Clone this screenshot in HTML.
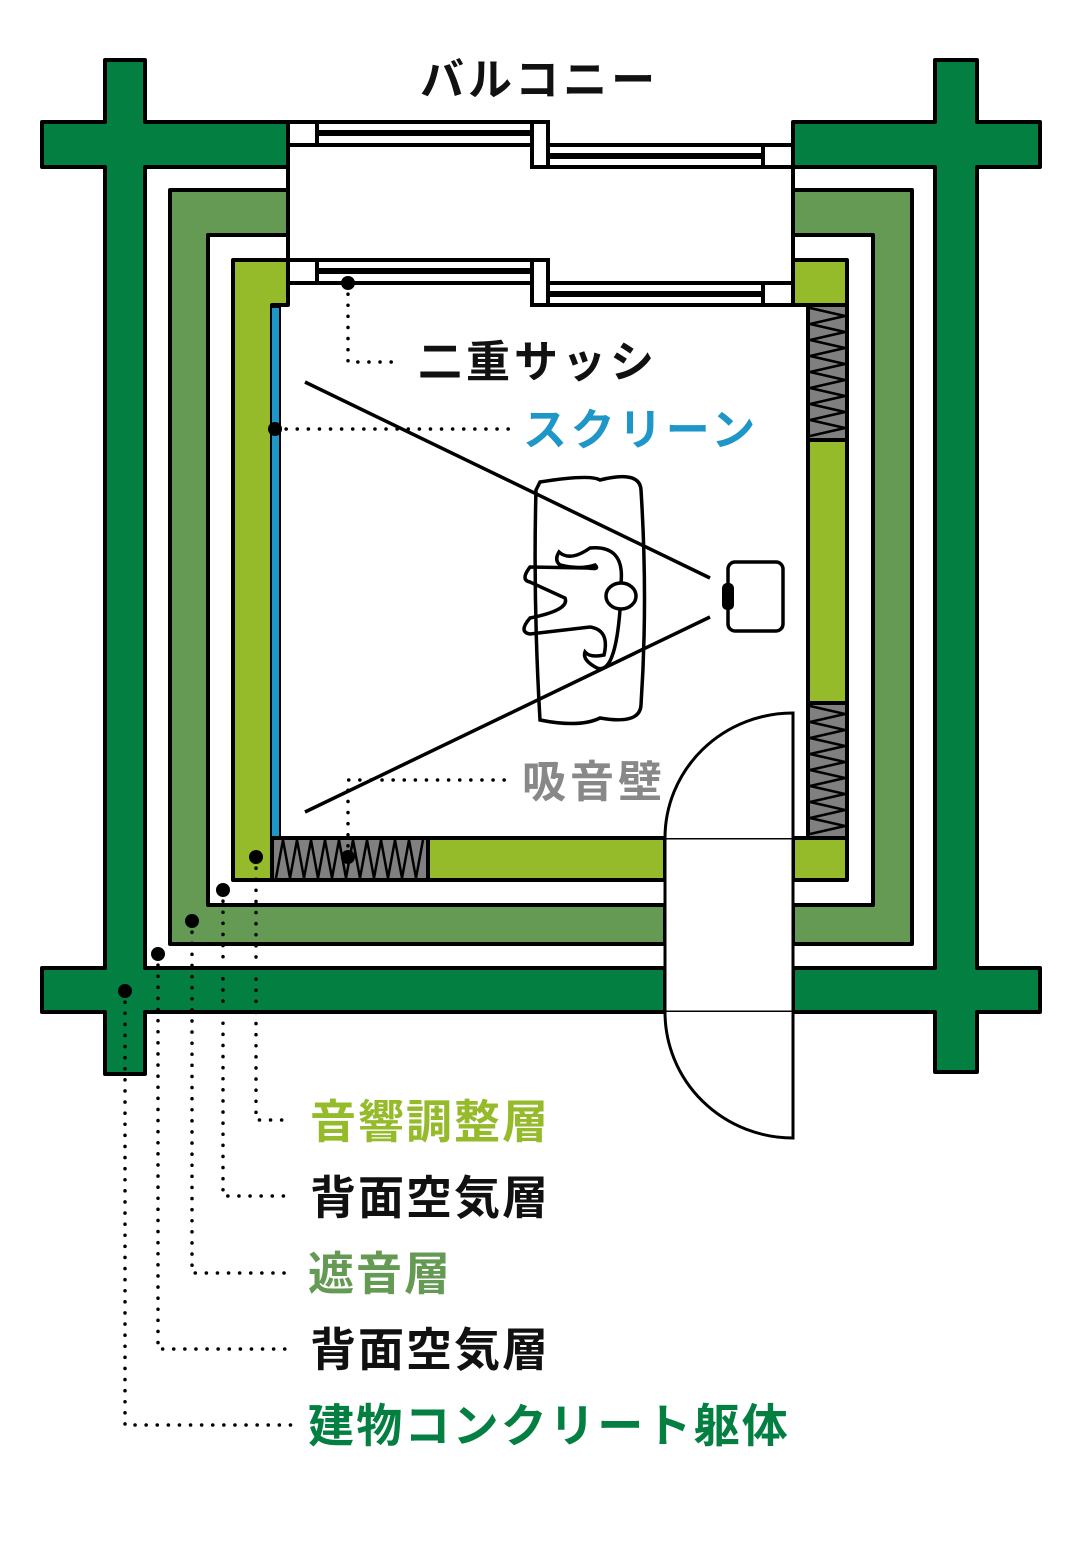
<!DOCTYPE html>
<html><head><meta charset="utf-8"><style>
html,body{margin:0;padding:0;background:#fff}
svg{display:block}
text{font-family:"Liberation Sans","Noto Sans CJK JP",sans-serif;font-weight:bold}
</style></head><body>
<svg width="1080" height="1560" viewBox="0 0 1080 1560" xmlns="http://www.w3.org/2000/svg">
<g stroke="#000" stroke-width="4" stroke-linejoin="round">
<path fill="#037f41" d="M105,60 H145 V122 H288 V167 H145 V968 H665 V1012 H145 V1074 H105 V1012 H42 V968 H105 V167 H42 V122 H105 Z"/>
<path fill="#037f41" d="M935,60 H977 V122 H1040 V167 H977 V968 H1040 V1012 H977 V1072 H935 V1012 H793 V968 H935 V167 H793 V122 H935 Z"/>
<path fill="#659a55" d="M170,190 H288 V235 H208 V905 H665 V944 H170 Z"/>
<path fill="#659a55" d="M793,190 H912 V944 H793 V905 H873 V235 H793 Z"/>
<path fill="#95bb2a" d="M233,260 H288 V305 H272 V838 H665 V880 H233 Z"/>
<path fill="#95bb2a" d="M793,260 H847 V880 H793 V838 H808 V305 H793 Z"/>
<rect x="808" y="305" width="39" height="135" fill="#808080"/>
<rect x="808" y="703" width="39" height="135" fill="#808080"/>
<rect x="272" y="838" width="156" height="42" fill="#808080"/>
</g>
<g fill="none" stroke="#000" stroke-width="2.5">
<path d="M810,308 L845,316 L810,324 L845,332 L810,340 L845,348 L810,356 L845,364 L810,372 L845,380 L810,388 L845,396 L810,404 L845,412 L810,420 L845,428 L810,436"/>
<path d="M810,706 L845,714 L810,722 L845,730 L810,738 L845,746 L810,754 L845,762 L810,770 L845,778 L810,786 L845,794 L810,802 L845,810 L810,818 L845,826 L810,834"/>
<path d="M276,878 L283,840 L290,878 L297,840 L304,878 L311,840 L318,878 L325,840 L332,878 L339,840 L346,878 L353,840 L360,878 L367,840 L374,878 L381,840 L388,878 L395,840 L402,878 L409,840 L416,878 L423,840"/>
</g>
<rect x="271" y="307" width="9" height="530" fill="#1e96c8" stroke="#000" stroke-width="2"/>
<g fill="#fff" stroke="#000" stroke-width="4">
<rect x="288" y="122" width="260" height="23"/>
<rect x="532" y="145" width="261" height="22"/>
<rect x="532" y="122" width="16" height="45"/>
<line x1="317" y1="122" x2="317" y2="145"/><line x1="317" y1="133" x2="532" y2="133" stroke-width="6"/>
<line x1="763" y1="145" x2="763" y2="167"/><line x1="548" y1="156" x2="763" y2="156" stroke-width="6"/>
<rect x="288" y="260" width="260" height="23"/>
<rect x="532" y="283" width="261" height="22"/>
<rect x="532" y="260" width="16" height="45"/>
<line x1="317" y1="260" x2="317" y2="283"/><line x1="317" y1="271" x2="532" y2="271" stroke-width="6"/>
<line x1="763" y1="283" x2="763" y2="305"/><line x1="548" y1="294" x2="763" y2="294" stroke-width="6"/>
<line x1="288" y1="167" x2="288" y2="260"/><line x1="793" y1="167" x2="793" y2="260"/>
</g>
<g fill="#fff" stroke="#000" stroke-width="3">
<rect x="665" y="838" width="128" height="174"/>
<path d="M793,838 V713 A128,125 0 0 0 665,838"/>
<path d="M665,1012 A128,126 0 0 0 793,1138 V1012"/>
</g>
<g fill="none" stroke="#000" stroke-width="3.5">
<line x1="305" y1="382" x2="710" y2="578"/>
<line x1="305" y1="812" x2="710" y2="617"/>
<rect x="728" y="562" width="55" height="69" rx="7"/>
<path d="M540,482 Q590,474 600,480 Q640,470 641,490 Q648,600 641,705 Q640,725 600,718 Q580,728 540,720 Q533,600 536,490 Z"/>
<ellipse cx="621" cy="596" rx="15" ry="13"/>
<path d="M621,583 Q625,545 590,548 Q570,562 559,552 Q554,560 560,565 Q580,570 595,565 Q600,570 588,568 L530,567 Q520,580 530,582 L565,598 Q570,610 530,618 Q518,632 530,634 L590,627 Q610,630 604,655 Q590,658 585,652 Q582,660 597,668 Q615,675 620,610"/>
</g>
<rect x="722" y="583" width="12" height="27" rx="5" fill="#000"/>
<g fill="none" stroke="#000" stroke-width="3.5" stroke-dasharray="0.1 11" stroke-linecap="round">
<path d="M348,283 V362 H398"/>
<path d="M275,429 H512"/>
<path d="M348,857 V780 H512"/>
<path d="M256,857 V1120 H292"/>
<path d="M223,890 V1196 H292"/>
<path d="M192,921 V1273 H292"/>
<path d="M158,954 V1349 H292"/>
<path d="M125,991 V1425 H292"/>
</g>
<g fill="#000">
<circle cx="348" cy="283" r="7"/><circle cx="275" cy="429" r="7"/><circle cx="348" cy="857" r="7"/>
<circle cx="256" cy="857" r="7"/><circle cx="223" cy="890" r="7"/><circle cx="192" cy="921" r="7"/>
<circle cx="158" cy="954" r="7"/><circle cx="125" cy="991" r="7"/>
</g>
<text x="420" y="95" font-size="44" fill="#111" letter-spacing="4">バルコニー</text>
<text x="418" y="377" font-size="44" fill="#111" letter-spacing="4">二重サッシ</text>
<text x="523" y="445" font-size="44" fill="#1e96c8" letter-spacing="3.6">スクリーン</text>
<text x="522" y="797" font-size="44" fill="#888" letter-spacing="4">吸音壁</text>
<text x="310" y="1138" font-size="46" fill="#95bb2a" letter-spacing="2">音響調整層</text>
<text x="310" y="1214" font-size="46" fill="#111" letter-spacing="2">背面空気層</text>
<text x="308" y="1290" font-size="46" fill="#659a55" letter-spacing="2">遮音層</text>
<text x="310" y="1366" font-size="46" fill="#111" letter-spacing="2">背面空気層</text>
<text x="308" y="1442" font-size="46" fill="#037f41" letter-spacing="2.2">建物コンクリート躯体</text>
</svg>
</body></html>
